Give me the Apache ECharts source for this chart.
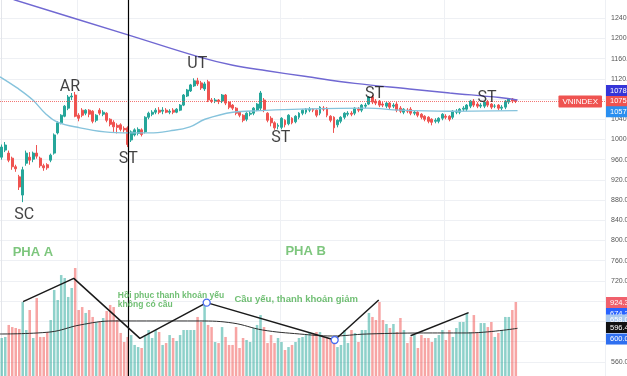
<!DOCTYPE html>
<html>
<head>
<meta charset="utf-8">
<script src="https://cdn.jsdelivr.net/npm/echarts@6.0.0/dist/echarts.min.js"></script>
<style>
  html, body { margin: 0; padding: 0; background: #fff; }
  #chart { width: 627px; height: 376px; }
</style>
</head>
<body>
<div id="chart"></div>
<script>
// daily candles: [open, close, low, high]
const ohlc = [
  [965,985,960,990],[979,989,975,995],[973,959,955,978],[963,946,940,966],[946,942,936,950],
  [926,906,900,930],[890,940,876,946],[953,973,948,978],[965,959,950,975],[961,973,955,976],
  [973,967,962,989],[963,948,944,966],[948,944,938,952],[950,944,940,953],[959,969,955,972],
  [973,1009,970,1012],[1013,1033,1010,1036],[1033,1048,1030,1050],[1046,1066,1044,1068],[1062,1084,1058,1088],
  [1084,1086,1078,1092],[1088,1046,1044,1094],[1048,1042,1036,1052],[1058,1048,1044,1062],[1052,1058,1048,1060],
  [1058,1050,1044,1060],[1056,1036,1032,1058],[1038,1048,1034,1050],[1058,1052,1048,1062],[1050,1054,1046,1058],
  [1052,1038,1034,1054],[1040,1030,1026,1042],[1034,1025,1015,1038],[1028,1024,1012,1032],[1029,1020,1016,1032],
  [1022,1019,1014,1026],[1023,990,985,1026],[999,1015,995,1018],[1009,1019,1006,1022],[1012,1020,1008,1024],
  [1019,1010,1006,1022],[1015,1044,1012,1046],[1044,1052,1040,1055],[1050,1054,1046,1058],[1054,1058,1050,1062],
  [1058,1054,1050,1064],[1056,1058,1050,1064],[1058,1054,1052,1062],[1054,1056,1050,1060],[1058,1054,1050,1062],
  [1054,1060,1052,1062],[1058,1068,1056,1070],[1068,1088,1066,1090],[1086,1098,1084,1100],[1096,1108,1094,1110],
  [1106,1116,1104,1121],[1116,1110,1106,1122],[1112,1102,1098,1116],[1100,1110,1096,1114],[1114,1078,1074,1118],
  [1078,1076,1072,1082],[1076,1078,1072,1082],[1078,1075,1070,1080],[1076,1088,1072,1090],[1088,1072,1068,1090],
  [1074,1064,1060,1076],[1068,1062,1058,1070],[1062,1052,1048,1064],[1054,1048,1044,1056],[1048,1038,1034,1050],
  [1040,1052,1036,1054],[1050,1052,1046,1056],[1052,1062,1048,1064],[1058,1070,1056,1072],[1062,1092,1058,1096],
  [1078,1058,1054,1082],[1052,1038,1034,1054],[1042,1033,1026,1046],[1033,1023,1019,1036],[1026,1028,1020,1032],
  [1024,1042,1020,1044],[1038,1029,1024,1040],[1031,1048,1028,1050],[1042,1033,1030,1044],[1035,1046,1032,1048],
  [1044,1052,1040,1054],[1052,1058,1048,1060],[1054,1060,1050,1062],[1058,1060,1054,1064],[1060,1058,1054,1062],
  [1058,1048,1044,1060],[1052,1064,1048,1066],[1062,1060,1056,1066],[1062,1048,1044,1064],[1046,1038,1034,1048],
  [1044,1023,1013,1046],[1029,1038,1024,1040],[1036,1044,1032,1046],[1044,1052,1040,1054],[1050,1052,1046,1056],
  [1052,1050,1046,1056],[1052,1062,1048,1064],[1060,1058,1054,1064],[1058,1068,1054,1070],[1066,1068,1062,1072],
  [1070,1084,1068,1086],[1084,1074,1070,1088],[1076,1072,1068,1080],[1076,1068,1064,1078],[1070,1068,1064,1074],
  [1066,1072,1062,1074],[1072,1064,1060,1074],[1066,1068,1062,1072],[1070,1058,1054,1074],[1062,1056,1052,1066],
  [1054,1060,1050,1062],[1058,1056,1052,1062],[1060,1052,1048,1064],[1052,1054,1048,1058],[1054,1048,1044,1056],
  [1050,1044,1040,1052],[1046,1040,1036,1048],[1044,1036,1032,1046],[1040,1034,1028,1042],[1036,1038,1032,1042],
  [1036,1042,1032,1044],[1042,1050,1038,1052],[1046,1044,1040,1050],[1046,1040,1036,1048],[1044,1056,1040,1058],
  [1054,1056,1050,1060],[1054,1060,1050,1062],[1060,1062,1056,1066],[1060,1068,1056,1070],[1066,1076,1062,1078],
  [1076,1068,1064,1080],[1070,1066,1062,1074],[1066,1068,1062,1072],[1066,1074,1062,1076],[1074,1068,1064,1078],
  [1070,1064,1060,1072],[1066,1066,1062,1070],[1068,1062,1058,1070],[1062,1064,1058,1068],[1064,1076,1060,1078],
  [1074,1080,1070,1082],[1080,1076,1072,1082],[1078,1075.4,1072,1080]
];

// volume (million shares)
const volume = [
  475,488,638,612,600,588,925,575,825,475,975,488,488,550,700,1075,950,1262,1225,988,
  1100,1350,825,862,788,825,738,675,675,725,812,888,862,700,538,425,488,512,388,362,
  350,512,575,475,575,550,388,412,512,475,438,512,575,575,575,575,738,675,912,638,
  612,425,412,612,488,388,388,612,350,475,450,425,600,638,762,612,412,512,412,475,
  425,325,362,388,425,475,488,512,550,538,550,550,488,475,475,475,362,388,575,412,
  575,538,425,575,575,788,738,700,925,700,650,600,650,550,725,575,412,488,512,350,
  512,475,475,425,475,512,575,450,575,488,600,675,675,788,550,762,538,662,662,612,
  675,488,538,575,738,738,825,925
];
const emptyDays = 25;

// moving averages, read at a few points along each curve (x = bar index)
const maSlowIdx = [-0.5, 3.8, 36.1, 56.6, 66.1, 75.8, 86.6, 101, 116.6, 128.1, 142.4, 147.5];
const maSlowVal = [1286, 1276, 1207, 1163, 1147, 1136, 1125, 1111, 1100, 1092, 1083, 1078];
const maFastIdx = [-0.5, 4.4, 8.9, 12.4, 15.8, 22.4, 29.5, 36.6, 42.4, 48.1, 53.8, 58.1, 66.1, 73.8, 85.2, 104.4, 113.8, 128.1, 147.5];
const maFastVal = [1124, 1102, 1078, 1052, 1035, 1023, 1015, 1013, 1013, 1017, 1025, 1040, 1054, 1057, 1060, 1062, 1058, 1056, 1057];
const volMaIdx = [-0.5, 13.8, 22.4, 31.8, 56.6, 66.1, 74.6, 85.2, 94.6, 104.4, 123.2, 132.9, 147.5];
const volMaVal = [525, 550, 638, 688, 688, 662, 575, 525, 500, 525, 538, 538, 596];

// hand-drawn volume trend lines
const zigAIdx = [6.1, 20.6, 39.5, 58.6, 95.2, 107.8];
const zigAVal = [929, 1221, 471, 917, 450, 950];
const zigACircle = [58.6, 95.2];
const zigBIdx = [116.9, 133.5];
const zigBVal = [504, 792];

const phaseSplitIdx = 36.2;
const gridLineIdx = [22, 80, 127];

// annotations
const wyckoffText = ['SC', 'AR', 'ST', 'UT', 'ST', 'ST', 'ST'];
const wyckoffIdx = [6.4, 19.5, 36.2, 55.9, 79.8, 106.6, 138.8];
const wyckoffPrice = [850, 1103, 962, 1150, 1002, 1090, 1083];
const phaseText = ['PHA A', 'PHA B'];
const phaseIdx = [8.9, 86.9];
const phasePrice = [776, 778];
const noteText = ['Hồi phục thanh khoản yếu\nkhông có cầu', 'Cầu yếu, thanh khoản giảm'];
const noteIdx = [33.2, 84.2];
const notePrice = [681, 684];
const noteAlign = ['left', 'center'];

// axis tags on the right
const lastClose = ohlc[ohlc.length - 1][1];
const priceTagText = ['1078.20', '1075.40', '1057.10'];
const priceTagAt = [1097, lastClose, 1055];
const priceTagColor = ['#3535d8', '#ef5350', '#2a8ff0'];
const volTagText = ['924.30', '674.20', '658.00', '596.40', '600.00'];
const volTagAt = [919, 781, 700, 606, 462];
const volTagColor = ['#f0606c', '#2962ff', '#a9c9ef', '#111111', '#2f6ff0'];

const UP = '#26a69a';
const DOWN = '#ef5350';

const categories = ohlc.map((_, i) => 'b' + i);
for (let i = 0; i < emptyDays; i++) categories.push('e' + i);
const lastIdx = categories.length - 1;

function pairs (xs, ys) {
  return xs.map((x, i) => [x, ys[i]]);
}

function tag (y, text, bg) {
  return {
    yAxis: y,
    lineStyle: { color: 'rgba(0,0,0,0)', width: 0 },
    label: {
      show: true,
      position: 'end',
      distance: 1,
      formatter: text,
      backgroundColor: bg,
      color: '#fff',
      fontSize: 7.5,
      fontFamily: 'Liberation Sans',
      padding: [2, 4, 1, 4]
    }
  };
}

const volumeBars = volume.map((v, i) => ({
  value: v,
  itemStyle: { color: ohlc[i][1] >= ohlc[i][0] ? 'rgba(38,166,154,0.52)' : 'rgba(239,83,80,0.52)' }
}));

const zigAData = zigAIdx.map((x, i) => {
  const isCircle = zigACircle.indexOf(x) >= 0;
  return {
    value: [x, zigAVal[i]],
    symbolSize: isCircle ? 7 : 0,
    itemStyle: { color: '#fff', borderColor: '#4a6cf0', borderWidth: 1.3 }
  };
});

const chart = echarts.init(document.getElementById('chart'));

const option = {
  animation: false,
  backgroundColor: '#ffffff',
  grid: { left: 0, right: 22, top: -2, bottom: -6, containLabel: false, outerBoundsMode: 'none' },
  xAxis: [
    {
      type: 'category',
      data: categories,
      boundaryGap: true,
      axisLine: { show: false },
      axisTick: { show: false },
      axisLabel: { show: false },
      splitLine: {
        show: true,
        interval: (index) => gridLineIdx.indexOf(index) >= 0,
        lineStyle: { color: '#eef0f4', width: 1 }
      }
    },
    {
      type: 'value',
      min: -0.5,
      max: lastIdx + 0.5,
      show: false
    }
  ],
  yAxis: [
    {
      type: 'value',
      position: 'right',
      min: 520,
      max: 1280,
      interval: 40,
      axisLine: { show: true, lineStyle: { color: '#e3e5ea' } },
      axisTick: { show: false },
      axisLabel: {
        show: true,
        showMaxLabel: false,
        showMinLabel: false,
        margin: 6,
        fontSize: 7,
        color: '#555',
        fontFamily: 'Liberation Sans',
        formatter: (v) => v.toFixed(2)
      },
      splitLine: { show: true, lineStyle: { color: '#eef0f4' } }
    },
    {
      type: 'value',
      min: -75,
      max: 4725,
      show: false,
      splitLine: { show: false }
    }
  ],
  series: [
    {
      name: 'Volume',
      type: 'bar',
      xAxisIndex: 0,
      yAxisIndex: 1,
      barWidth: '72%',
      z: 1,
      data: volumeBars,
      markLine: {
        silent: true,
        symbol: ['none', 'none'],
        data: volTagText.map((t, i) => tag(volTagAt[i], t, volTagColor[i]))
      }
    },
    {
      name: 'VNINDEX',
      type: 'candlestick',
      xAxisIndex: 0,
      yAxisIndex: 0,
      barWidth: '70%',
      z: 3,
      data: ohlc,
      itemStyle: {
        color: UP,
        color0: DOWN,
        borderColor: UP,
        borderColor0: DOWN,
        borderWidth: 1
      },
      markLine: {
        silent: true,
        symbol: ['none', 'none'],
        data: [
          {
            yAxis: lastClose,
            lineStyle: { type: 'dotted', color: '#ef5350', width: 1, opacity: 0.8 },
            label: { show: false }
          },
          {
            yAxis: lastClose,
            lineStyle: { color: 'rgba(0,0,0,0)', width: 0 },
            label: {
              show: true,
              position: 'insideEnd',
              distance: 3,
              formatter: 'VNINDEX',
              backgroundColor: '#ef5350',
              color: '#fff',
              fontSize: 8,
              fontFamily: 'Liberation Sans',
              padding: [2, 4, 2, 4],
              borderRadius: 1
            }
          }
        ].concat(priceTagText.map((t, i) => tag(priceTagAt[i], t, priceTagColor[i])))
      }
    },
    {
      name: 'MA slow',
      type: 'line',
      xAxisIndex: 1,
      yAxisIndex: 0,
      smooth: 0.4,
      symbol: 'none',
      z: 4,
      lineStyle: { color: '#7068d2', width: 1.4 },
      data: pairs(maSlowIdx, maSlowVal)
    },
    {
      name: 'MA fast',
      type: 'line',
      xAxisIndex: 1,
      yAxisIndex: 0,
      smooth: 0.4,
      symbol: 'none',
      z: 4,
      lineStyle: { color: '#86c3dc', width: 1.4 },
      data: pairs(maFastIdx, maFastVal),
      markLine: {
        silent: true,
        symbol: ['none', 'none'],
        label: { show: false },
        lineStyle: { color: '#000', width: 1.2, type: 'solid' },
        data: [{ xAxis: phaseSplitIdx }]
      }
    },
    {
      name: 'Volume MA',
      type: 'line',
      xAxisIndex: 1,
      yAxisIndex: 1,
      smooth: 0.4,
      symbol: 'none',
      z: 4,
      lineStyle: { color: '#2e2e2e', width: 1 },
      data: pairs(volMaIdx, volMaVal)
    },
    {
      name: 'Trend A',
      type: 'line',
      xAxisIndex: 1,
      yAxisIndex: 1,
      symbol: 'circle',
      showSymbol: true,
      z: 5,
      lineStyle: { color: '#1a1a1a', width: 1.5 },
      data: zigAData
    },
    {
      name: 'Trend B',
      type: 'line',
      xAxisIndex: 1,
      yAxisIndex: 1,
      symbol: 'none',
      z: 5,
      lineStyle: { color: '#1a1a1a', width: 1.5 },
      data: pairs(zigBIdx, zigBVal)
    },
    {
      name: 'Wyckoff',
      type: 'scatter',
      xAxisIndex: 1,
      yAxisIndex: 0,
      symbolSize: 0,
      z: 6,
      label: {
        show: true,
        position: 'inside',
        color: '#111',
        fontSize: 16,
        fontFamily: 'Roboto',
        formatter: (p) => wyckoffText[p.dataIndex]
      },
      data: pairs(wyckoffIdx, wyckoffPrice)
    },
    {
      name: 'Phases',
      type: 'scatter',
      xAxisIndex: 1,
      yAxisIndex: 0,
      symbolSize: 0,
      z: 6,
      label: {
        show: true,
        position: 'inside',
        color: '#5cb85c',
        fontSize: 13,
        fontWeight: 'bold',
        fontFamily: 'Liberation Sans',
        formatter: (p) => phaseText[p.dataIndex]
      },
      data: pairs(phaseIdx, phasePrice)
    },
    {
      name: 'Notes',
      type: 'scatter',
      xAxisIndex: 1,
      yAxisIndex: 0,
      symbolSize: 0,
      z: 6,
      data: noteIdx.map((x, i) => ({
        value: [x, notePrice[i]],
        label: {
          show: true,
          position: 'inside',
          align: noteAlign[i],
          color: '#4caf50',
          fontSize: i === 0 ? 8.5 : 9.5,
          lineHeight: 9,
          fontWeight: 'bold',
          fontFamily: 'Liberation Sans',
          formatter: noteText[i]
        }
      }))
    }
  ]
};

chart.setOption(option);
</script>
</body>
</html>
